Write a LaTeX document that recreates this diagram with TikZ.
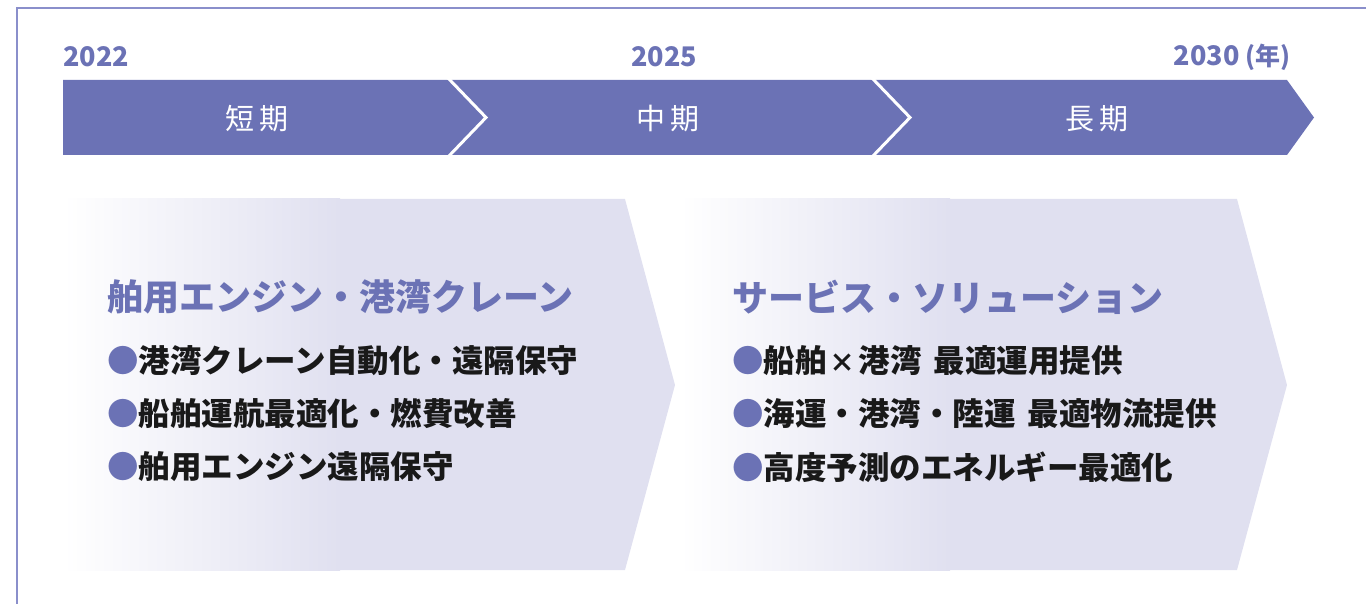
\documentclass[tikz,border=0pt]{standalone}
\usepackage{fontspec}
\setmainfont{Noto Sans CJK JP}
\definecolor{barpurple}{HTML}{6B72B5}
\definecolor{lav}{HTML}{E0E0F0}
\definecolor{framecol}{HTML}{8A8FCB}
\tikzset{
  year/.style={text=barpurple,font=\bfseries\fontsize{27}{30}\selectfont,inner sep=0pt},
  stage/.style={text=white,font=\fontsize{29}{32}\selectfont,inner sep=0pt},
  heading/.style={text=barpurple,font=\bfseries\fontsize{36}{40}\selectfont,anchor=west,inner sep=0pt},
  item/.style={text=black!90,font=\bfseries\fontsize{31.5}{36}\selectfont,anchor=west,inner sep=0pt}
}
\newcommand{\pdot}{\textcolor{barpurple}{●}}
\newcommand{\smallx}{\hspace{3pt}{\fontsize{26}{26}\selectfont ×}\hspace{3pt}}
\begin{document}
\begin{tikzpicture}[x=1pt,y=-1pt]
	\useasboundingbox (0,0) rectangle (1366,604);
	\draw[framecol,line width=2pt] (17,8) rectangle (1390,630);
	% top timeline
	\fill[barpurple] (63,80)--(1287,80)--(1314,117.5)--(1287,155)--(63,155)--cycle;
	\draw[white,line width=3pt] (448,78)--(486,117.5)--(448,157);
	\draw[white,line width=3pt] (872,78)--(910,117.5)--(872,157);
	\node[year,anchor=west] (y22) at (63,57) {2022};
	\node[year] (y25) at (664,57) {2025};
	\node[year,anchor=east] (y30) at (1291,57) {2030 {\fontsize{25}{28}\selectfont (年)}};
	\node[stage] (short) at (257,119) {短\kern6pt期};
	\node[stage] (mid) at (668,119) {中\kern6pt期};
	\node[stage] (long) at (1097,119) {長\kern6pt期};
	% lower arrows
	\fill[lav] (63,199)--(625,199)--(675,385)--(625,570)--(63,570)--cycle;
	\shade[left color=white,right color=lav] (63,199) rectangle (340,570);
	\fill[lav] (680,199)--(1237,199)--(1287,385)--(1237,570)--(680,570)--cycle;
	\shade[left color=white,right color=lav] (680,199) rectangle (950,570);
	\node[heading] (engine) at (107,297) {舶用エンジン・港湾クレーン};
	\node[item] (e1) at (107,361) {\pdot 港湾クレーン自動化・遠隔保守};
	\node[item] (e2) at (107,414) {\pdot 船舶運航最適化・燃費改善};
	\node[item] (e3) at (107,467) {\pdot 舶用エンジン遠隔保守};
	\node[heading] (service) at (732,297) {サービス・ソリューション};
	\node[item] (s1) at (732,361) {\pdot 船舶\smallx 港湾\hspace{12pt}最適運用提供};
	\node[item] (s2) at (732,414) {\pdot 海運・港湾・陸運\hspace{12pt}最適物流提供};
	\node[item] (s3) at (732,467) {\pdot 高度予測のエネルギー最適化};
\end{tikzpicture}
\end{document}
